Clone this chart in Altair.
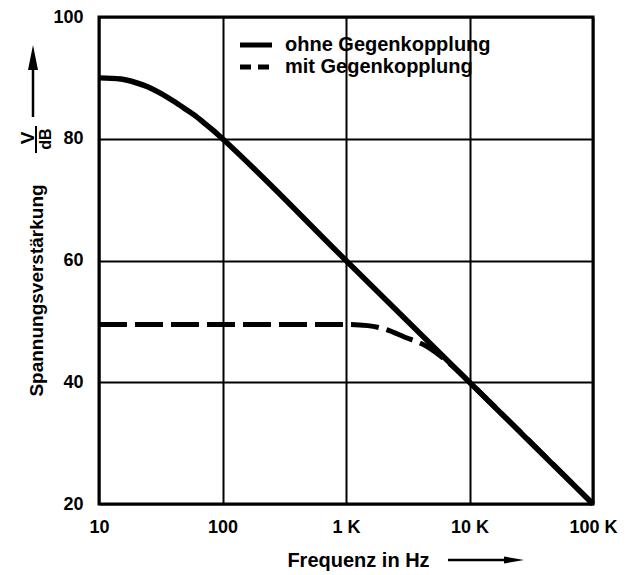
import altair as alt
import pandas as pd

# ---- data ----
freq_ohne = [10, 15, 20, 25, 30, 40, 50, 60, 70, 85, 100, 1000, 10000, 100000]
gain_ohne = [90, 89.8, 89.2, 88.5, 87.7, 86.2, 84.9, 83.8, 82.7, 81.3, 80, 60, 40, 20]

freq_mit = [10, 100, 500, 1000, 1500, 2000, 3000, 4500, 6000, 8000, 10000, 100000]
gain_mit = [49.5, 49.5, 49.5, 49.5, 49.3, 48.8, 47.4, 45.9, 44.1, 41.9, 40, 20]

x_ticks = [10, 100, 1000, 10000, 100000]
y_ticks = [20, 40, 60, 80, 100]
legend_labels = ["ohne Gegenkopplung", "mit Gegenkopplung"]

FONT = "Liberation Sans"

df_ohne = pd.DataFrame({"f": freq_ohne, "g": gain_ohne})
df_mit = pd.DataFrame({"f": freq_mit, "g": gain_mit})

xscale = alt.Scale(type="log", domain=[10, 100000], nice=False)
yscale = alt.Scale(domain=[20, 100], nice=False, zero=False)

xaxis = alt.Axis(
    values=x_ticks,
    labelExpr="datum.value >= 1000 ? (datum.value/1000) + ' K' : datum.value",
    title="Frequenz in Hz",
    titleX=259, titleY=56, titleAlign="center", titleBaseline="middle",
    titleFont=FONT, titleFontSize=20, titleFontWeight="bold", titleColor="black",
    labelFont=FONT, labelFontSize=18, labelFontWeight="bold", labelColor="black",
    labelPadding=14, labelFlush=False, labelOverlap=False,
    ticks=False, domain=False,
    grid=True, gridColor="black", gridWidth=2, gridOpacity=1,
)
yaxis = alt.Axis(
    values=y_ticks,
    title="Spannungsverstärkung",
    titleX=-57, titleY=273, titleAngle=270, titleAlign="center", titleBaseline="alphabetic",
    titleFont=FONT, titleFontSize=19, titleFontWeight="bold", titleColor="black",
    labelFont=FONT, labelFontSize=18, labelFontWeight="bold", labelColor="black",
    labelPadding=16, labelFlush=False, labelOverlap=False,
    ticks=False, domain=False,
    grid=True, gridColor="black", gridWidth=2, gridOpacity=1,
)

ohne = alt.Chart(df_ohne).mark_line(
    color="black", strokeWidth=5.5, interpolate="monotone", strokeCap="butt"
).encode(
    x=alt.X("f:Q", scale=xscale, axis=xaxis),
    y=alt.Y("g:Q", scale=yscale, axis=yaxis),
)

mit = alt.Chart(df_mit).mark_line(
    color="black", strokeWidth=5, interpolate="monotone", strokeDash=[28, 8], strokeCap="butt"
).encode(
    x=alt.X("f:Q", scale=xscale),
    y=alt.Y("g:Q", scale=yscale),
)

one = pd.DataFrame({"k": [0]})

# legend
leg_solid = alt.Chart(one).mark_rule(color="black", strokeWidth=5).encode(
    x=alt.value(141), x2=alt.value(173), y=alt.value(28))
leg_dash = alt.Chart(one).mark_rule(color="black", strokeWidth=5, strokeDash=[11, 7]).encode(
    x=alt.value(141), x2=alt.value(173), y=alt.value(50))
leg_text = alt.Chart(pd.DataFrame({"lab": legend_labels, "yy": [28, 50]})).mark_text(
    font=FONT, fontSize=20, fontWeight="bold", color="black", align="left", baseline="middle"
).encode(
    x=alt.value(186),
    y=alt.Y("yy:Q", scale=None),
    text="lab:N",
)

# y-axis unit fraction and arrow
v_text = alt.Chart(pd.DataFrame({"t": ["V"]})).mark_text(
    font=FONT, fontSize=19, fontWeight="bold", color="black", angle=270,
    align="center", baseline="alphabetic"
).encode(x=alt.value(-65), y=alt.value(121), text="t:N")
frac_line = alt.Chart(one).mark_rule(color="black", strokeWidth=2).encode(
    x=alt.value(-63), y=alt.value(109), y2=alt.value(136))
db_text = alt.Chart(pd.DataFrame({"t": ["dB"]})).mark_text(
    font=FONT, fontSize=16, fontWeight="bold", color="black", angle=270,
    align="center", baseline="alphabetic"
).encode(x=alt.value(-48), y=alt.value(122), text="t:N")
y_arrow_shaft = alt.Chart(one).mark_rule(color="black", strokeWidth=2.5).encode(
    x=alt.value(-66), y=alt.value(45), y2=alt.value(100))
y_arrow_head = alt.Chart(one).mark_point(
    filled=True, color="black", opacity=1, shape="M0,-1L0.4,1L-0.4,1Z", size=625
).encode(x=alt.value(-66), y=alt.value(40.5))

# x-axis title arrow
x_arrow_shaft = alt.Chart(one).mark_rule(color="black", strokeWidth=2.5).encode(
    x=alt.value(349), x2=alt.value(410), y=alt.value(543))
x_arrow_head = alt.Chart(one).mark_point(
    filled=True, color="black", opacity=1, shape="M1,0L-1,-0.35L-1,0.35Z", size=400
).encode(x=alt.value(415), y=alt.value(543))

chart = alt.layer(
    ohne, mit, leg_solid, leg_dash, leg_text,
    v_text, frac_line, db_text, y_arrow_shaft, y_arrow_head,
    x_arrow_shaft, x_arrow_head,
).properties(
    width=494, height=487,
    autosize=alt.AutoSizeParams(type="none"),
    padding={"left": 99, "top": 17, "right": 34, "bottom": 71},
    background="white",
).configure_view(
    stroke="black", strokeWidth=3
)

chart.save("out.html", embed_options={"renderer": "svg", "actions": False})
